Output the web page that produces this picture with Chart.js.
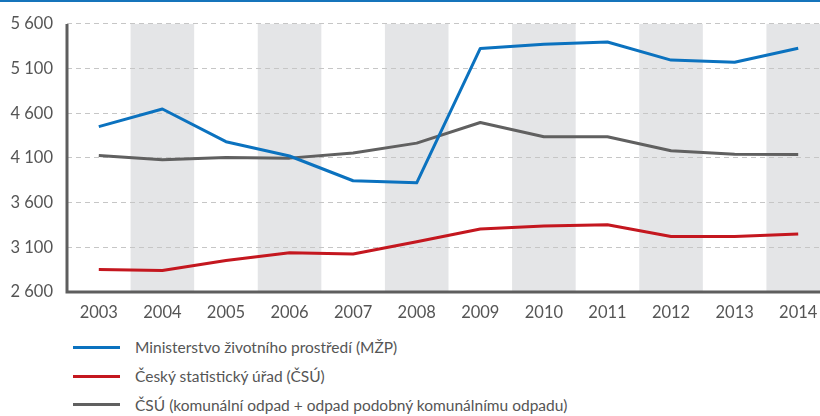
<!DOCTYPE html>
<html>
<head>
<meta charset="utf-8">
<script src="https://cdn.jsdelivr.net/npm/chart.js"></script>
<style>
    html, body { margin: 0; padding: 0; background: #fff; width: 820px; height: 416px; overflow: hidden; }
    #topRule { position: absolute; left: 0; top: 0; width: 820px; height: 2px; background: #1574bb; }
    #wrap { position: absolute; left: 0; top: 0; width: 830px; height: 320px; }
    #legend { position: absolute; left: 73px; top: 333px; font-family: Lato, sans-serif; font-size: 15.5px; color: #555; }
    .row { height: 28.7px; display: flex; align-items: center; }
    .sw { width: 47px; height: 3px; margin-right: 15px; }
</style>
</head>
<body>
<div id="wrap"><canvas id="chart" width="830" height="320"></canvas></div>
<div id="topRule"></div>
<div id="legend"></div>
<script>
(function () {
    "use strict";

    var years = ["2003","2004","2005","2006","2007","2008","2009","2010","2011","2012","2013","2014"];
    var yTicks = [2600, 3100, 3600, 4100, 4600, 5100, 5600];

    var labelMzp = "Ministerstvo životního prostředí (MŽP)";
    var labelCsu = "Český statistický úřad (ČSÚ)";
    var labelCsuPlus = "ČSÚ (komunální odpad + odpad podobný komunálnímu odpadu)";

    var mzp    = [4450, 4648, 4282, 4122, 3845, 3822, 5325, 5372, 5398, 5195, 5170, 5327];
    var csu    = [2853, 2840, 2952, 3040, 3026, 3163, 3306, 3338, 3352, 3220, 3220, 3248];
    var csuAll = [4127, 4080, 4106, 4098, 4155, 4266, 4497, 4337, 4337, 4180, 4141, 4140];

    var colors = ["#0b72bf", "#c4171f", "#606060"];

    function fmt(v) {
        return String(v).replace(/\B(?=(\d{3})+(?!\d))/g, " ");
    }

    // alternating grey bands behind the lines + solid axis lines on top
    var framePlugin = {
        id: "frame",
        beforeDraw: function (chart) {
            var ctx = chart.ctx, a = chart.chartArea, x = chart.scales.x;
            var half = (a.right - a.left) / years.length / 2;
            ctx.save();
            ctx.fillStyle = "#e4e5e7";
            years.forEach(function (y, i) {
                if (i % 2 === 1) {
                    var c = x.getPixelForValue(i);
                    ctx.fillRect(c - half, a.top, half * 2, a.bottom - a.top);
                }
            });
            ctx.restore();
        },
        afterDraw: function (chart) {
            var ctx = chart.ctx, a = chart.chartArea;
            ctx.save();
            ctx.strokeStyle = "#5e5e5e";
            ctx.lineWidth = 3;
            ctx.beginPath();
            ctx.moveTo(a.left, a.top);
            ctx.lineTo(a.left, a.bottom);
            ctx.lineTo(a.right, a.bottom);
            ctx.stroke();
            ctx.restore();
        }
    };

    function ds(label, data, color) {
        return {
            label: label,
            data: data,
            borderColor: color,
            backgroundColor: color,
            borderWidth: 3,
            pointRadius: 0,
            tension: 0,
            borderJoinStyle: "round"
        };
    }

    new Chart(document.getElementById("chart"), {
        type: "line",
        data: {
            labels: years,
            datasets: [ds(labelMzp, mzp, colors[0]), ds(labelCsu, csu, colors[1]), ds(labelCsuPlus, csuAll, colors[2])]
        },
        options: {
            responsive: false,
            animation: false,
            layout: { padding: { left: 0, right: 0, top: 19, bottom: 0 } },
            plugins: { legend: { display: false }, tooltip: { enabled: false } },
            scales: {
                x: {
                    offset: true,
                    grid: { display: false, drawTicks: false },
                    border: { display: false },
                    ticks: { color: "#555", padding: 11, font: { family: "Lato", size: 16.5 }, maxRotation: 0 },
                    afterFit: function (s) { s.height = 28; }
                },
                y: {
                    min: 2600,
                    max: 5600,
                    afterBuildTicks: function (s) { s.ticks = yTicks.map(function (v) { return { value: v }; }); },
                    grid: { color: "#c6c6c6", lineWidth: 1, drawTicks: false },
                    border: { display: false, dash: [5, 4] },
                    ticks: {
                        color: "#555", padding: 14, font: { family: "Lato", size: 16.5 },
                        callback: function (v) { return fmt(v); }
                    },
                    afterFit: function (s) { s.width = 67; }
                }
            }
        },
        plugins: [framePlugin]
    });

    var legend = document.getElementById("legend");
    [labelMzp, labelCsu, labelCsuPlus].forEach(function (t, i) {
        var row = document.createElement("div");
        row.className = "row";
        row.innerHTML = '<div class="sw" style="background:' + colors[i] + '"></div><span>' + t + '</span>';
        legend.appendChild(row);
    });
})();
</script>
</body>
</html>
